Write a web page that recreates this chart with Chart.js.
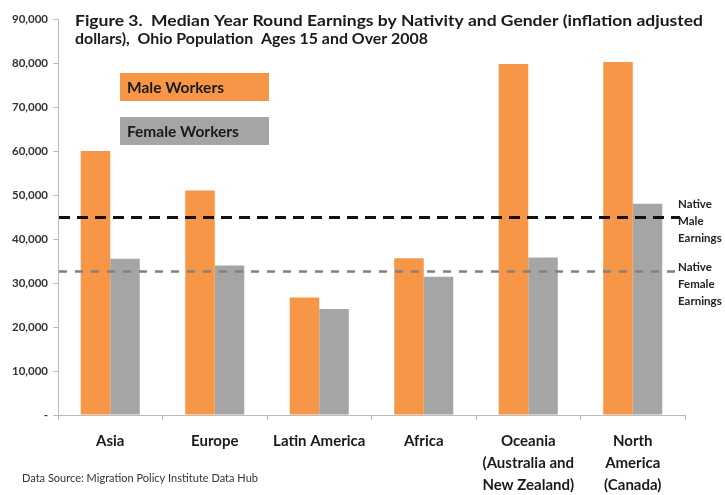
<!DOCTYPE html>
<html lang="en">
<head>
<meta charset="UTF-8">
<title>Median Year Round Earnings by Nativity and Gender</title>
<script src="https://cdn.jsdelivr.net/npm/chart.js"></script>
<style>
  body { margin: 0; background: #fff; }
</style>
</head>
<body>
<canvas id="chart" width="725" height="495"></canvas>
<script>
// data
const regions = ['Asia', 'Europe', 'Latin America', 'Africa', ['Oceania', '(Australia and', 'New Zealand)'], ['North', 'America', '(Canada)']];
const maleEarnings = [60000, 51000, 26700, 35600, 79800, 80200];
const femaleEarnings = [35500, 34000, 24100, 31400, 35800, 48000];
const nativeMale = 45000;
const nativeFemale = 32700;
const seriesNames = ['Male Workers', 'Female Workers'];

const FONT = 'Lato, "Open Sans", sans-serif';
const ORANGE = '#F79646';
const GREY = '#A5A5A5';

// text drawn at a given width (the original used a narrower face)
function fitText(ctx, txt, x, y, weight, size, width) {
  ctx.font = weight + ' ' + size + 'px ' + FONT;
  const w = ctx.measureText(txt).width;
  ctx.save();
  ctx.translate(x, y);
  ctx.scale(width / w, 1);
  ctx.fillText(txt, 0, 0);
  ctx.restore();
}

// title, legend boxes, reference lines and notes
const extras = {
  id: 'extras',
  afterDatasetsDraw(chart) {
    const { ctx, chartArea, scales: { y } } = chart;
    function refLine(v, color, w, dash) {
      const py = Math.round(y.getPixelForValue(v)) + 0.5;
      ctx.save();
      ctx.strokeStyle = color;
      ctx.lineWidth = w;
      ctx.setLineDash(dash);
      ctx.beginPath();
      ctx.moveTo(chartArea.left + 1, py);
      ctx.lineTo(chartArea.right - 5, py);
      ctx.stroke();
      ctx.restore();
    }
    refLine(nativeMale, '#111', 3, [11, 7]);
    refLine(nativeFemale, '#808080', 2.5, [8, 8]);
  },
  afterDraw(chart) {
    const { ctx, scales: { y } } = chart;
    ctx.save();
    ctx.textBaseline = 'middle';
    ctx.textAlign = 'left';

    // title
    ctx.fillStyle = '#1a1a1a';
    fitText(ctx, 'Figure 3.  Median Year Round Earnings by Nativity and Gender (inflation adjusted', 75, 21, 'bold', 16, 628);
    fitText(ctx, 'dollars),  Ohio Population  Ages 15 and Over 2008', 75, 39, 'bold', 16, 353);

    // legend text boxes
    const boxes = [[ORANGE, 73], [GREY, 117]];
    boxes.forEach(([c, top], i) => {
      ctx.fillStyle = c;
      ctx.fillRect(120, top, 149, 28);
      ctx.fillStyle = '#1a1a1a';
      ctx.font = 'bold 15.5px ' + FONT;
      ctx.fillText(seriesNames[i], 127, top + 15);
    });

    // reference labels
    ctx.font = 'bold 11.5px ' + FONT;
    ctx.fillStyle = '#222';
    const my = y.getPixelForValue(nativeMale);
    ['Native', 'Male', 'Earnings'].forEach((t, i) => ctx.fillText(t, 678, my - 13 + i * 17));
    const fy = y.getPixelForValue(nativeFemale);
    ['Native', 'Female', 'Earnings'].forEach((t, i) => ctx.fillText(t, 678, fy - 4 + i * 17));

    // source note
    ctx.fillStyle = '#333';
    fitText(ctx, 'Data Source: Migration Policy Institute Data Hub', 22, 479, 'normal', 10.5, 236);
    ctx.restore();
  }
};

new Chart(document.getElementById('chart'), {
  type: 'bar',
  data: {
    labels: regions,
    datasets: [
      { label: seriesNames[0], data: maleEarnings, backgroundColor: ORANGE },
      { label: seriesNames[1], data: femaleEarnings, backgroundColor: GREY }
    ]
  },
  options: {
    responsive: false,
    animation: false,
    layout: { padding: { top: 19, right: 40, left: 0, bottom: 0 } },
    datasets: { bar: { categoryPercentage: 0.565, barPercentage: 1.0 } },
    plugins: { legend: { display: false }, tooltip: { enabled: false } },
    scales: {
      x: {
        grid: { offset: true, drawOnChartArea: false, color: '#bbb', tickLength: 5 },
        border: { color: '#bbb' },
        ticks: {
          color: '#1a1a1a',
          font: { family: FONT, size: 15, weight: 'bold', lineHeight: 1.47 },
          padding: 10,
          maxRotation: 0,
          autoSkip: false
        },
        afterFit(s) { s.height = 80; }
      },
      y: {
        min: 0,
        max: 90000,
        grid: { drawOnChartArea: false, color: '#bbb', tickLength: 5 },
        border: { color: '#bbb' },
        ticks: {
          stepSize: 10000,
          color: '#333',
          padding: 5,
          font: { family: FONT, size: 11.5, weight: 'bold' },
          callback: v => v === 0 ? '-' : v.toLocaleString('en-US')
        },
        afterFit(s) { s.width = 58; }
      }
    }
  },
  plugins: [extras]
});
</script>
</body>
</html>
